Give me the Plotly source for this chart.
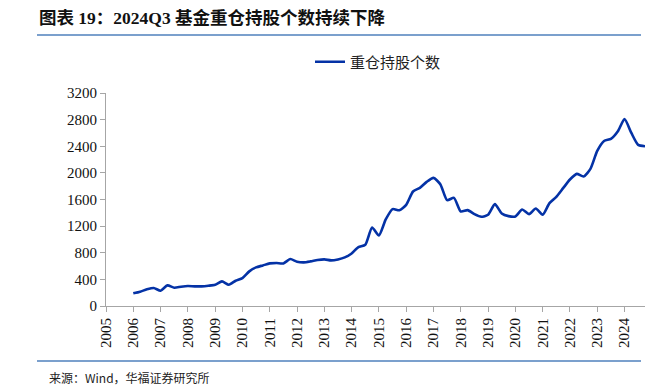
import plotly.graph_objects as go

# Quarterly data: 2005Q4 .. 2024Q3
quarters = [f"{y}Q{q}" for y in range(2005, 2025) for q in range(1, 5)]
quarters = quarters[quarters.index("2005Q4"):quarters.index("2024Q3") + 1]

holdings = [
    190, 215, 250, 270, 230, 310, 275, 290,
    300, 295, 295, 305, 320, 370, 320, 380,
    420, 520, 580, 610, 640, 645, 640, 705,
    665, 655, 670, 690, 700, 685, 700, 730,
    790, 885, 920, 1180, 1060, 1300, 1455, 1440,
    1520, 1720, 1775, 1865, 1925, 1830, 1590, 1625,
    1420, 1440, 1380, 1340, 1370, 1530, 1390, 1350,
    1345, 1450, 1380, 1465, 1370, 1545, 1640, 1770,
    1900, 1985, 1945, 2060, 2330, 2480, 2510, 2620,
    2810, 2600, 2420, 2400,
]

year_ticks = list(range(2005, 2025))
y_ticks = list(range(0, 3201, 400))

# quarter-end position on a numeric year axis
x_pos = [int(s[:4]) + int(s[-1]) / 4 for s in quarters]

fig = go.Figure()
fig.add_trace(go.Scatter(
    x=x_pos, y=holdings, mode="lines", name="重仓持股个数",
    line=dict(color="#0432A6", width=2.6, shape="spline", smoothing=0.6),
))

serif = "Liberation Serif, Times New Roman, serif"
cjk = "Noto Sans CJK SC, sans-serif"

L, R, T, B = 106, 23, 93, 85
PW, PH = 668 - L - R, 391 - T - B


def px(x):
    return (x - L) / PW


def py(y):
    return (391 - B - y) / PH


fig.update_layout(
    width=668, height=391,
    margin=dict(l=L, r=R, t=T, b=B, autoexpand=False),
    paper_bgcolor="white", plot_bgcolor="white",
    showlegend=True,
    legend=dict(orientation="h", xref="container", yref="container",
                x=310 / 668, y=1 - 62 / 391, xanchor="left", yanchor="middle",
                font=dict(family=cjk, size=15, color="#222"), bgcolor="rgba(0,0,0,0)"),
    xaxis=dict(
        range=[2005, 2024.75], tickmode="array", tickvals=year_ticks,
        ticktext=[str(y) for y in year_ticks], tickangle=-90,
        showgrid=False, zeroline=False, showline=True, linecolor="#A6A6A6", linewidth=1,
        ticks="outside", ticklen=5, tickcolor="#A6A6A6", automargin=False,
        tickfont=dict(family=serif, size=15, color="#111"),
    ),
    yaxis=dict(
        range=[0, 3200], tickmode="array", tickvals=y_ticks,
        showgrid=False, zeroline=False, showline=True, linecolor="#A6A6A6", linewidth=1,
        ticks="outside", ticklen=5, tickcolor="#A6A6A6", automargin=False,
        tickfont=dict(family=serif, size=15, color="#111"),
    ),
    annotations=[
        dict(text="<b>图表 19：2024Q3 基金重仓持股个数持续下降</b>", xref="paper", yref="paper",
             x=px(37), y=py(18), xanchor="left", yanchor="middle",
             showarrow=False, font=dict(family="Liberation Serif, Noto Sans CJK SC", size=17.5, color="#111")),
        dict(text="来源：Wind，华福证券研究所", xref="paper", yref="paper",
             x=px(47), y=py(377), xanchor="left", yanchor="middle",
             showarrow=False, font=dict(family=cjk, size=12, color="#222")),
    ],
    shapes=[
        dict(type="line", xref="paper", yref="paper",
             x0=px(37), x1=px(641), y0=py(35), y1=py(35),
             line=dict(color="#4F81BD", width=1.5)),
        dict(type="line", xref="paper", yref="paper",
             x0=px(37), x1=px(641), y0=py(361), y1=py(361),
             line=dict(color="#4F81BD", width=1.5)),
    ],
)

fig.write_html("out.html", config={"displayModeBar": False},
               post_script="document.body.style.margin='0';document.body.style.overflow='hidden';")
